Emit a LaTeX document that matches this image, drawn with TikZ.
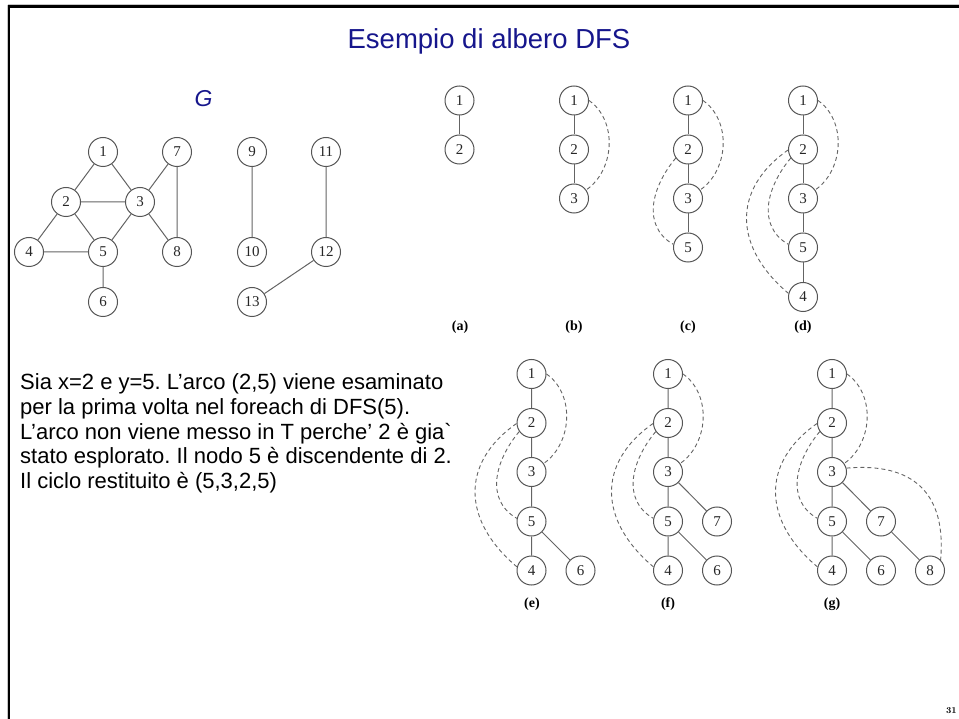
\documentclass[tikz,border=0pt]{standalone}
\usepackage{fontspec}
\newfontfamily\comic{Liberation Sans}
\newfontfamily\numfont{Liberation Serif}
\frenchspacing
\definecolor{titleblue}{RGB}{22,22,140}
\definecolor{ecol}{RGB}{100,100,100}
\definecolor{ncol}{RGB}{85,85,85}
\tikzset{
  vx/.style={circle, draw=ncol, line width=1pt, minimum size=29pt, inner sep=0pt,
    font=\numfont\fontsize{15}{17}\selectfont, text=black!85},
  te/.style={draw=ecol, line width=1pt},
  back/.style={draw=ecol, line width=0.9pt, dash pattern=on 4pt off 3pt},
  sub/.style={font=\numfont\bfseries\fontsize{14}{16}\selectfont},
  body/.style={font=\comic\fontsize{22}{25}\selectfont, anchor=base west, inner sep=0pt}
}
\begin{document}
\begin{tikzpicture}[x=1pt,y=-1pt]
\useasboundingbox (0,0) rectangle (959,719);
% border
\draw[gray!45, line width=1pt] (8,5) -- (959,5);
\draw[gray!45, line width=1pt] (7.6,5) -- (7.6,719);
\draw[black, line width=2.3pt, line join=miter] (9,719) -- (9,6.5) -- (959,6.5);
% title
\node[font=\comic\fontsize{27.5}{32}\selectfont, text=titleblue] (title) at (489,41) {Esempio di albero DFS};
\node[font=\comic\itshape\fontsize{23}{26}\selectfont, text=titleblue] (Gl) at (203.5,98.5) {G};
% graph G
\node[vx] (G1) at (103,152) {1};
\node[vx] (G7) at (177,152) {7};
\node[vx] (G9) at (252,152) {9};
\node[vx] (G11) at (326,152) {11};
\node[vx] (G2) at (66,202) {2};
\node[vx] (G3) at (140,202) {3};
\node[vx] (G4) at (29,252) {4};
\node[vx] (G5) at (103,252) {5};
\node[vx] (G8) at (177,252) {8};
\node[vx] (G10) at (252,252) {10};
\node[vx] (G12) at (326,252) {12};
\node[vx] (G6) at (103,302) {6};
\node[vx] (G13) at (252,302) {13};
\draw[te] (G1) -- (G2) (G1) -- (G3) (G2) -- (G3) (G2) -- (G4) (G2) -- (G5)
  (G3) -- (G5) (G3) -- (G7) (G3) -- (G8) (G7) -- (G8) (G4) -- (G5) (G5) -- (G6)
  (G9) -- (G10) (G11) -- (G12) (G12) -- (G13);
% (a)
\node[vx] (a1) at (459.5,100.5) {1};
\node[vx] (a2) at (459.5,149.5) {2};
\draw[te] (a1) -- (a2);
\node[sub] (la) at (460,327) {(a)};
% (b)
\node[vx] (b1) at (574,100.5) {1};
\node[vx] (b2) at (574,149.5) {2};
\node[vx] (b3) at (574,198.5) {3};
\draw[te] (b1) -- (b2) -- (b3);
\draw[back] (b1.0) to[out=-35,in=35] (b3.35);
\node[sub] (lb) at (574,327) {(b)};
% (c)
\node[vx] (c1) at (688,100.5) {1};
\node[vx] (c2) at (688,149.5) {2};
\node[vx] (c3) at (688,198.5) {3};
\node[vx] (c5) at (688,247.5) {5};
\draw[te] (c1) -- (c2) -- (c3) -- (c5);
\draw[back] (c1.0) to[out=-35,in=35] (c3.35);
\draw[back] (c2.215) to[out=230,in=150,looseness=1.1] (c5.168);
\node[sub] (lc) at (688,327) {(c)};
% (d)
\node[vx] (d1) at (803,100.5) {1};
\node[vx] (d2) at (803,149.5) {2};
\node[vx] (d3) at (803,198.5) {3};
\node[vx] (d5) at (803,247.5) {5};
\node[vx] (d4) at (803,297) {4};
\draw[te] (d1) -- (d2) -- (d3) -- (d5) -- (d4);
\draw[back] (d1.0) to[out=-35,in=35] (d3.35);
\draw[back] (d2.215) to[out=230,in=150,looseness=1.1] (d5.168);
\draw[back] (d2.182) to[out=215,in=140,looseness=1.25] (d4.166);
\node[sub] (ld) at (803,327) {(d)};
% (e)
\node[vx] (e1) at (531.5,374) {1};
\node[vx] (e2) at (531.5,423) {2};
\node[vx] (e3) at (531.5,472) {3};
\node[vx] (e5) at (531.5,521.5) {5};
\node[vx] (e4) at (531.5,570.5) {4};
\node[vx] (e6) at (580.5,570.5) {6};
\draw[te] (e1) -- (e2) -- (e3) -- (e5) -- (e4) (e5) -- (e6);
\draw[back] (e1.0) to[out=-35,in=35] (e3.35);
\draw[back] (e2.215) to[out=230,in=150,looseness=1.1] (e5.168);
\draw[back] (e2.182) to[out=215,in=140,looseness=1.25] (e4.166);
\node[sub] (le) at (532,604) {(e)};
% (f)
\node[vx] (f1) at (668,374) {1};
\node[vx] (f2) at (668,423) {2};
\node[vx] (f3) at (668,472) {3};
\node[vx] (f5) at (668,521.5) {5};
\node[vx] (f7) at (717,521.5) {7};
\node[vx] (f4) at (668,570.5) {4};
\node[vx] (f6) at (717,570.5) {6};
\draw[te] (f1) -- (f2) -- (f3) -- (f5) -- (f4) (f5) -- (f6) (f3) -- (f7);
\draw[back] (f1.0) to[out=-35,in=35] (f3.35);
\draw[back] (f2.215) to[out=230,in=150,looseness=1.1] (f5.168);
\draw[back] (f2.182) to[out=215,in=140,looseness=1.25] (f4.166);
\node[sub] (lf) at (668,604) {(f)};
% (g)
\node[vx] (h1) at (832,374) {1};
\node[vx] (h2) at (832,423) {2};
\node[vx] (h3) at (832,472) {3};
\node[vx] (h5) at (832,521.5) {5};
\node[vx] (h7) at (881,521.5) {7};
\node[vx] (h4) at (832,570.5) {4};
\node[vx] (h6) at (881,570.5) {6};
\node[vx] (h8) at (930,570.5) {8};
\draw[te] (h1) -- (h2) -- (h3) -- (h5) -- (h4) (h5) -- (h6) (h3) -- (h7) -- (h8);
\draw[back] (h1.0) to[out=-35,in=35] (h3.35);
\draw[back] (h2.215) to[out=230,in=150,looseness=1.1] (h5.168);
\draw[back] (h2.182) to[out=215,in=140,looseness=1.25] (h4.166);
\draw[back] (h3.15) to[out=5,in=85,looseness=1.3] (h8.45);
\node[sub] (lg) at (832,604) {(g)};
% body text
\node[body] (L1) at (20,390) {Sia x=2 e y=5. L’arco (2,5) viene esaminato};
\node[body] (L2) at (20,414.6) {per la prima volta nel foreach di DFS(5).};
\node[body] (L3) at (20,439.2) {L’arco non viene messo in T perche’ 2 è gia`};
\node[body] (L4) at (20,463.8) {stato esplorato. Il nodo 5 è discendente di 2.};
\node[body] (L5) at (20,488.4) {Il ciclo restituito è (5,3,2,5)};
% page number
\node[font=\bfseries\fontsize{9}{10}\selectfont, anchor=base east, inner sep=0pt] (pg) at (957,713) {31};
\end{tikzpicture}
\end{document}
